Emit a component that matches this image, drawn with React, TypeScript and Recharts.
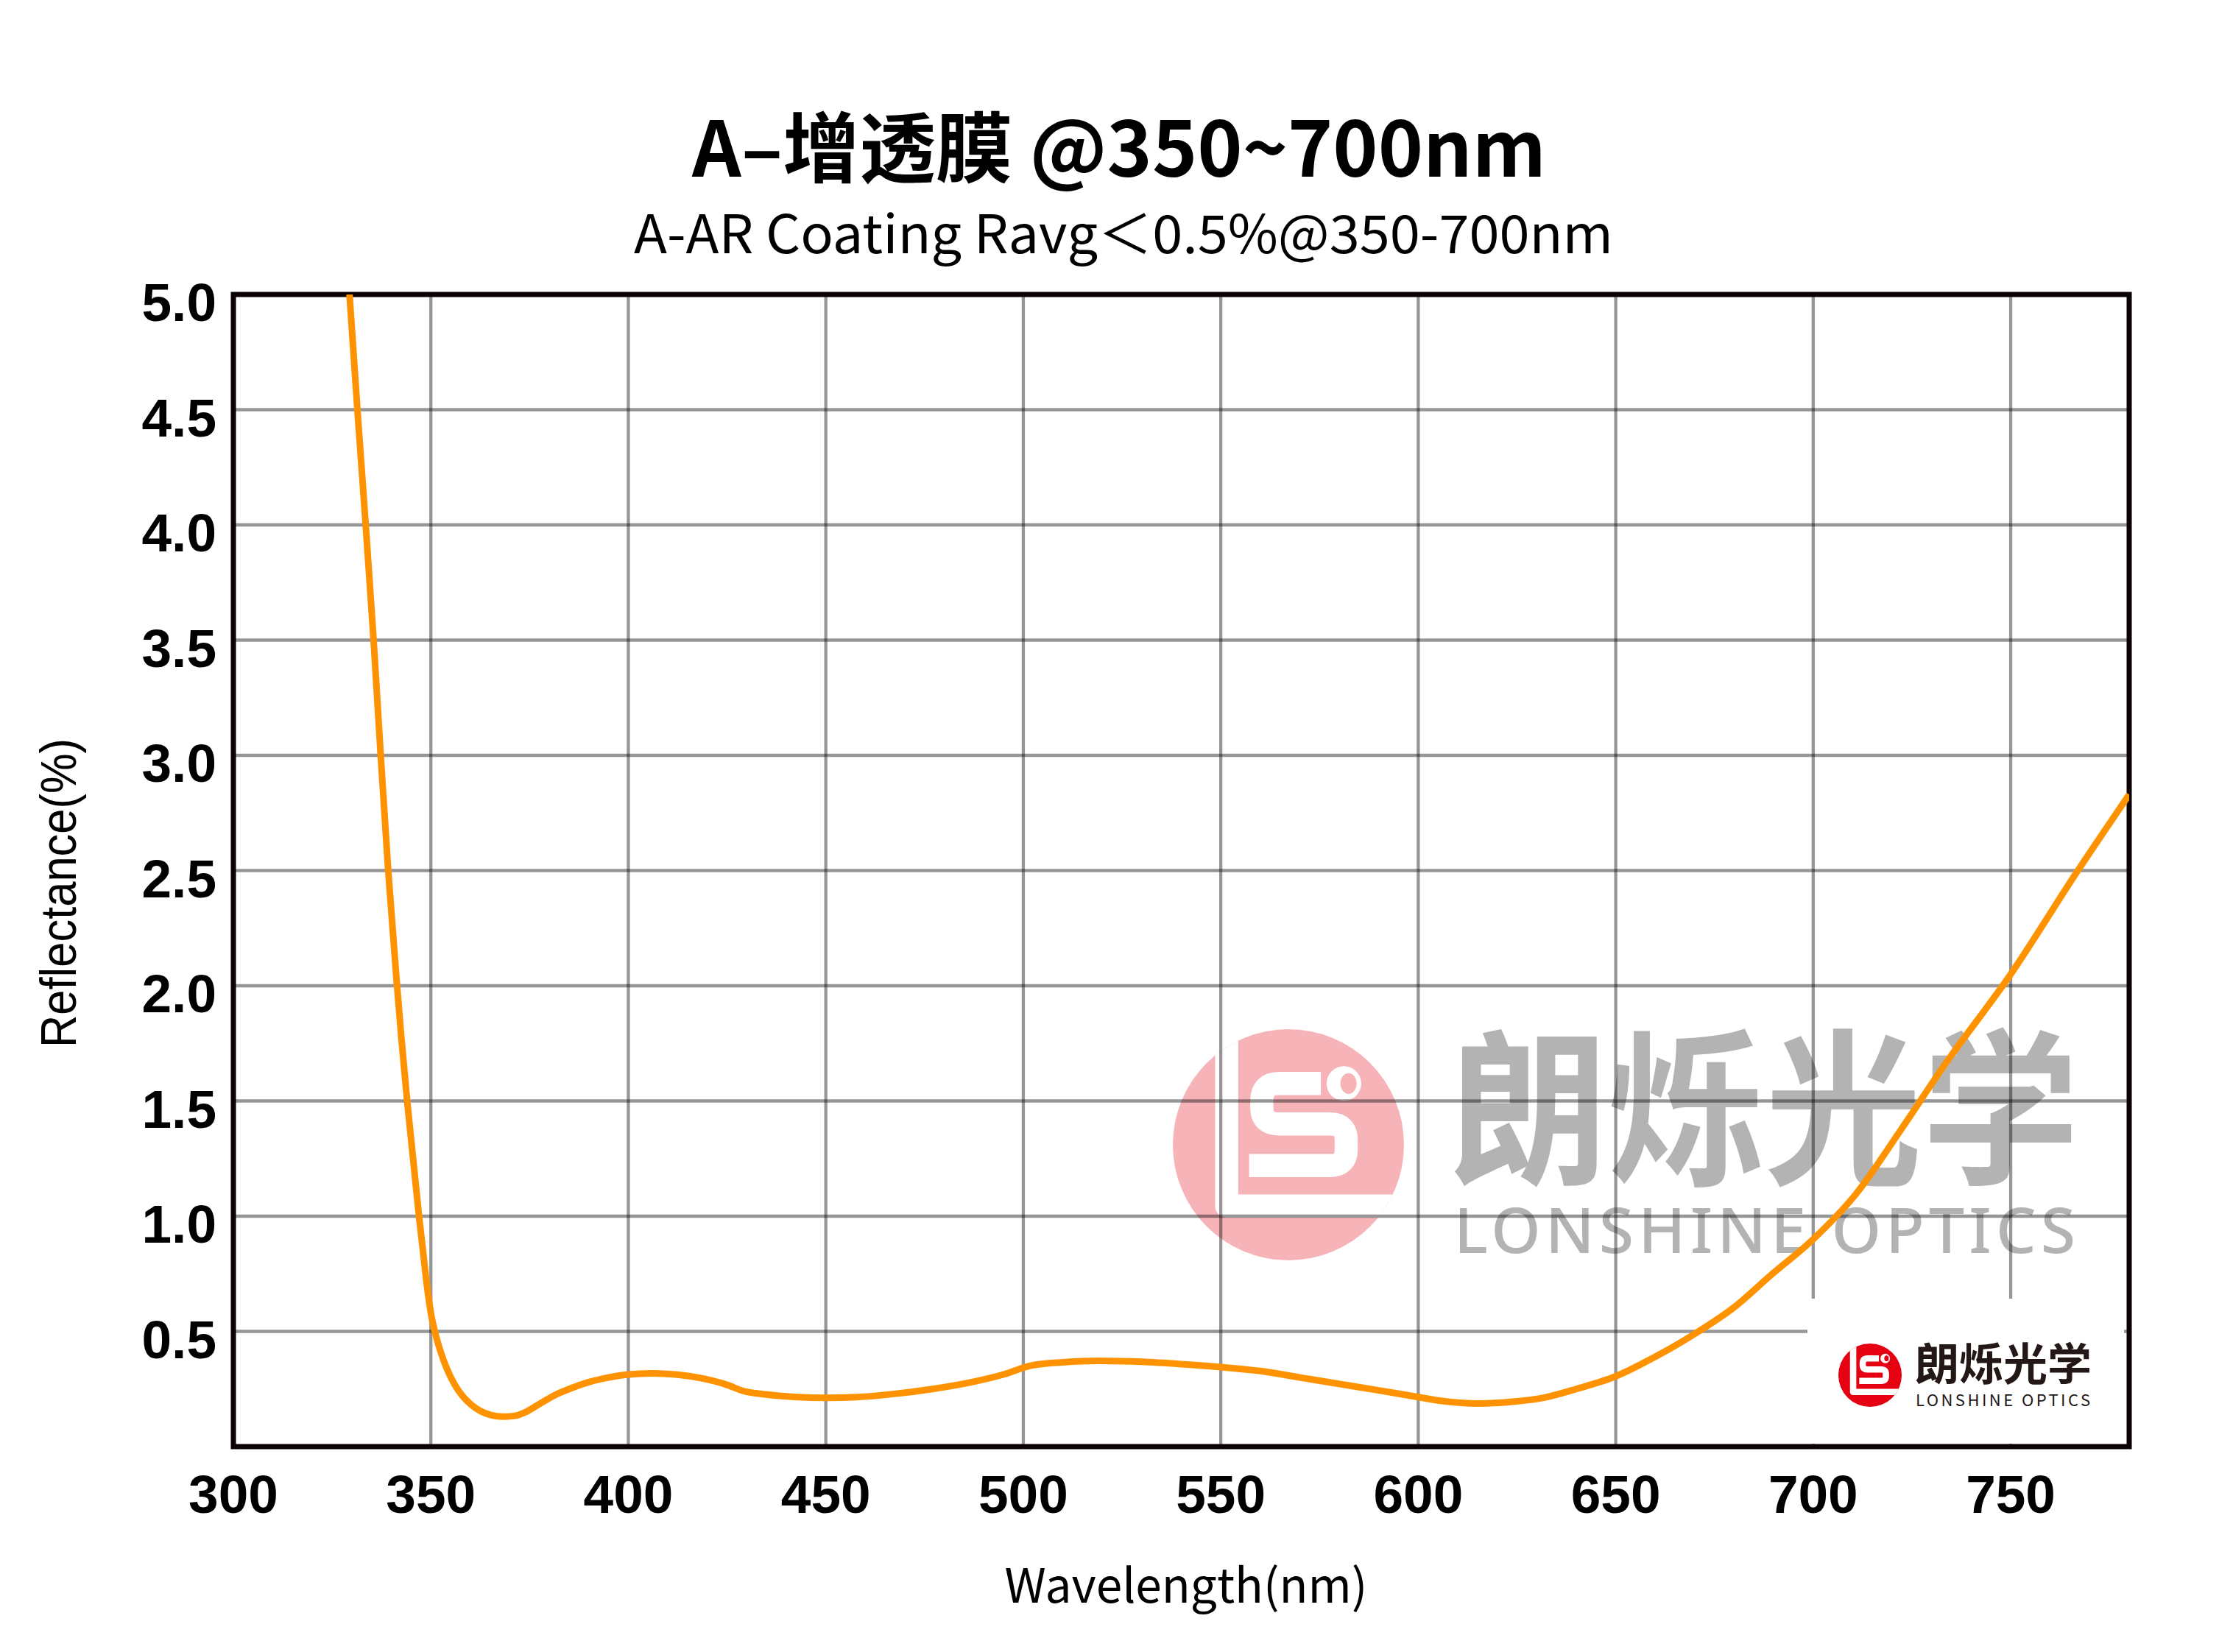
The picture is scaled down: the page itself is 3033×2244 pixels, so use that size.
import React from "react";
import {
  LineChart,
  Line,
  XAxis,
  YAxis,
  CartesianGrid,
  ReferenceArea,
} from "recharts";

// wavelength (nm) and reflectance (%)
const wavelengths = [
  329.4, 331.4, 333.5, 335.5, 337.3, 339.2, 341.2, 342.5, 344, 345.5, 347, 348,
  349, 350, 351, 352.5, 354, 356, 358, 360, 362.5, 365, 368, 371, 374, 377.5,
  381, 385, 390, 395, 400, 406, 412, 419, 425, 429, 435, 442, 450, 458, 467,
  477, 487, 495, 502, 510, 519, 530, 540, 550, 560, 570, 580, 590, 600, 606,
  615, 624, 632, 640, 650, 660, 671, 680, 689, 700, 711, 722, 733, 750, 767,
  780,
];
const reflectance = [
  5.0, 4.5, 4.0, 3.5, 3.0, 2.5, 2.05, 1.78, 1.5, 1.25, 1.0, 0.85, 0.7, 0.58,
  0.5, 0.41, 0.34, 0.27, 0.22, 0.185, 0.155, 0.138, 0.13, 0.133, 0.15, 0.185,
  0.22, 0.25, 0.28, 0.3, 0.313, 0.318, 0.313, 0.295, 0.268, 0.242, 0.226,
  0.216, 0.212, 0.215, 0.228, 0.25, 0.28, 0.313, 0.352, 0.366, 0.372, 0.368,
  0.358, 0.345, 0.328, 0.3, 0.272, 0.244, 0.215, 0.198, 0.187, 0.195, 0.213,
  0.25, 0.305, 0.39, 0.5, 0.605, 0.74, 0.9, 1.1, 1.37, 1.65, 2.05, 2.5, 2.83,
];
const xTicks = [300, 350, 400, 450, 500, 550, 600, 650, 700, 750];
const yTicks = [0.5, 1.0, 1.5, 2.0, 2.5, 3.0, 3.5, 4.0, 4.5, 5.0];

const data = wavelengths.map((wl, i) => ({ wl, r: reflectance[i] }));

const W = 3033;
const H = 2244;
const PLOT = { left: 317, right: 2892, top: 400, bottom: 1965 };

const tickFont = {
  fontFamily: "'Liberation Sans', Arial, sans-serif",
  fontWeight: 700,
  fontSize: 73,
};
const cjk = "'Noto Sans CJK SC', 'Noto Sans', sans-serif";

const XTick = (props: any) => {
  const { x, y, payload } = props;
  return (
    <text x={x} y={y + 90} textAnchor="middle" fill="#000" style={tickFont}>
      {payload.value}
    </text>
  );
};

const YTick = (props: any) => {
  const { x, y, payload } = props;
  return (
    <text x={x - 23} y={y + 36} textAnchor="end" fill="#000" style={tickFont}>
      {Number(payload.value).toFixed(1)}
    </text>
  );
};

// LS mark used for the watermark and the small corner logo
const LogoMark = ({ cx, cy, r, color, id }: any) => {
  const s = (2 * r) / 100;
  return (
    <g transform={`translate(${cx - r},${cy - r}) scale(${s})`}>
      <defs>
        <clipPath id={id}>
          <circle cx={50} cy={50} r={50} />
        </clipPath>
      </defs>
      <circle cx={50} cy={50} r={50} fill={color} />
      <g clipPath={`url(#${id})`}>
        <path
          d="M23.3 -5 V76.5 H105"
          stroke="#fff"
          strokeWidth={10}
          fill="none"
          strokeLinejoin="round"
        />
      </g>
      <path
        d="M64 23.5 H46 Q38.5 23.5 38.5 31 V34 Q38.5 41 46 41 H68 Q75 41 75 48 V52 Q75 59 68 59 H33"
        stroke="#fff"
        strokeWidth={10}
        fill="none"
      />
      <ellipse cx={74} cy={23.5} rx={7.5} ry={7.5} fill="#fff" />
      <ellipse cx={76} cy={23.5} rx={3.5} ry={4.5} fill={color} />
    </g>
  );
};

const Watermark = () => (
  <svg
    width={W}
    height={H}
    style={{ position: "absolute", left: 0, top: 0, zIndex: 0 }}
  >
    <LogoMark cx={1750} cy={1555} r={157} color="#F6B4B9" id="wm-clip" />
    <text
      x={1970}
      y={1592}
      textLength={854}
      lengthAdjust="spacingAndGlyphs"
      fill="#B3B3B3"
      style={{ fontFamily: cjk, fontWeight: 700, fontSize: 228 }}
    >
      朗烁光学
    </text>
    <text
      x={1975}
      y={1702}
      textLength={844}
      lengthAdjust="spacing"
      fill="#B3B3B3"
      style={{ fontFamily: "'Noto Sans', sans-serif", fontWeight: 500, fontSize: 86 }}
    >
      LONSHINE OPTICS
    </text>
  </svg>
);

const Overlay = () => (
  <svg
    width={W}
    height={H}
    style={{ position: "absolute", left: 0, top: 0, zIndex: 2, pointerEvents: "none" }}
  >
    <text
      x={1520}
      y={240}
      textAnchor="middle"
      fill="#000"
      style={{ fontFamily: cjk, fontWeight: 700, fontSize: 104 }}
    >
      A–增透膜 @350~700nm
    </text>
    <text
      x={1526}
      y={344}
      textAnchor="middle"
      textLength={1330}
      lengthAdjust="spacingAndGlyphs"
      fill="#000"
      style={{ fontFamily: cjk, fontWeight: 400, fontSize: 72 }}
    >
      A-AR Coating Ravg＜0.5%@350-700nm
    </text>
    <text
      x={1611}
      y={2177}
      textAnchor="middle"
      fill="#000"
      style={{ fontFamily: cjk, fontWeight: 400, fontSize: 64 }}
    >
      Wavelength(nm)
    </text>
    <text
      x={0}
      y={0}
      transform="translate(103,1213) rotate(-90)"
      textAnchor="middle"
      textLength={420}
      lengthAdjust="spacingAndGlyphs"
      fill="#000"
      style={{ fontFamily: "'Liberation Sans', Arial, sans-serif", fontSize: 68 }}
    >
      Reflectance(%)
    </text>

    {/* small corner logo on a white patch */}
    <rect x={2455} y={1764} width={430} height={197} fill="#fff" />
    <LogoMark cx={2540} cy={1868} r={43} color="#E50012" id="logo-clip" />
    <text
      x={2601}
      y={1875}
      textLength={240}
      lengthAdjust="spacingAndGlyphs"
      fill="#231815"
      style={{ fontFamily: cjk, fontWeight: 700, fontSize: 60 }}
    >
      朗烁光学
    </text>
    <text
      x={2602}
      y={1910}
      textLength={237}
      lengthAdjust="spacing"
      fill="#231815"
      style={{ fontFamily: cjk, fontWeight: 400, fontSize: 22 }}
    >
      LONSHINE OPTICS
    </text>
  </svg>
);

const Y_AXIS_W = 100;
const X_AXIS_H = 100;

export default function App() {
  return (
    <div
      style={{
        position: "relative",
        width: W,
        height: H,
        margin: -8,
        background: "#fff",
        overflow: "hidden",
      }}
    >
      <Watermark />
      <div style={{ position: "absolute", left: 0, top: 0, zIndex: 1 }}>
        <LineChart
          width={W}
          height={H}
          data={data}
          margin={{
            top: PLOT.top,
            right: W - PLOT.right,
            bottom: H - PLOT.bottom - X_AXIS_H,
            left: PLOT.left - Y_AXIS_W,
          }}
        >
          <CartesianGrid
            stroke="rgba(0,0,0,0.41)"
            strokeWidth={4.3}
            verticalValues={xTicks}
            horizontalValues={yTicks}
          />
          <XAxis
            dataKey="wl"
            type="number"
            domain={[300, 780]}
            ticks={xTicks}
            height={X_AXIS_H}
            axisLine={false}
            tickLine={false}
            tickSize={0}
            tickMargin={0}
            tick={<XTick />}
            interval={0}
            allowDataOverflow
          />
          <YAxis
            type="number"
            domain={[0, 5]}
            ticks={yTicks}
            width={Y_AXIS_W}
            axisLine={false}
            tickLine={false}
            tickSize={0}
            tickMargin={0}
            tick={<YTick />}
            interval={0}
            allowDataOverflow
          />
          <ReferenceArea
            x1={300}
            x2={780}
            y1={0}
            y2={5}
            fill="none"
            fillOpacity={0}
            stroke="#0B0204"
            strokeWidth={7}
            ifOverflow="visible"
          />
          <Line
            type="monotone"
            dataKey="r"
            stroke="#FF9200"
            strokeWidth={9}
            dot={false}
            activeDot={false}
            isAnimationActive={false}
          />
        </LineChart>
      </div>
      <Overlay />
    </div>
  );
}
